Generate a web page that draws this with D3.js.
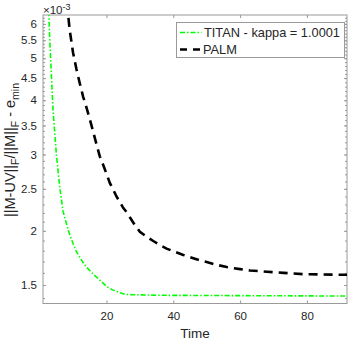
<!DOCTYPE html>
<html><head><meta charset="utf-8">
<script src="https://cdn.jsdelivr.net/npm/d3@7"></script>
<style>body{margin:0;background:#fff}svg{display:block}text{font-family:"Liberation Sans",Arial,sans-serif;fill:#262626}</style>
</head><body><div id="c"></div>
<script>
// data (values in units of 1e-3)
const titanTime = [1,2,3,4,5,6,7,8,9,10,11,12,13,14,15,16,17,18,19,20,21,22,23,24,25,26,28,30,35,40,50,60,70,80,92];
const titanValue = [14,9.5,5.55,3.8,3.0,2.53,2.22,2.08,1.96,1.87,1.79,1.74,1.69,1.65,1.62,1.59,1.565,1.54,1.515,1.49,1.474,1.46,1.45,1.44,1.432,1.427,1.425,1.424,1.421,1.42,1.419,1.418,1.417,1.416,1.415];
const palmTime = [6,7,8,9,10,11,12,13,14,15,16,17,18,19,20,21,22,23,24,25,26,27,28,29,30,32,34,36,38,40,43,46,48,50,53,56,58,60,63,68,73,79,84,89,92];
const palmValue = [9.2,8.0,6.9,5.8,5.15,4.72,4.38,4.08,3.85,3.62,3.39,3.17,2.97,2.84,2.71,2.58,2.49,2.40,2.33,2.26,2.21,2.15,2.09,2.04,1.99,1.94,1.895,1.855,1.82,1.795,1.76,1.73,1.71,1.695,1.67,1.65,1.64,1.632,1.62,1.61,1.60,1.589,1.587,1.585,1.584];
const xTicks = [20,40,60,80];
const yTicks = [1.5,2,2.5,3,3.5,4,4.5,5,5.5,6];
const yMinorTicks = [1.4,1.5,1.6,1.7,1.8,1.9,2.0,2.1,2.2,2.3,2.4,2.5,2.6,2.7,2.8,2.9,3.0,3.1,3.2,3.3,3.4,3.5,3.6,3.7,3.8,3.9,4.0,4.1,4.2,4.3,4.4,4.5,4.6,4.7,4.8,4.9,5.0,5.1,5.2,5.3,5.4,5.5,5.6,5.7,5.8,5.9,6.0,6.1,6.2];
const seriesNames = ["TITAN - kappa = 1.0001","PALM"];

const W=350,H=341, L=43,R=347,T=15,B=303.5;
const svg=d3.select("#c").append("svg").attr("width",W).attr("height",H);
const x=d3.scaleLinear().domain([1,92]).range([L,R]);
const y=d3.scaleLog().domain([1.36,6.29]).range([B,T]);

svg.append("defs").append("clipPath").attr("id","clip").append("rect").attr("x",L).attr("y",T).attr("width",R-L).attr("height",B-T);

const axColor="#9a9a9a";
svg.append("rect").attr("x",L).attr("y",T).attr("width",R-L).attr("height",B-T).attr("fill","none").attr("stroke",axColor).attr("stroke-width",1);

const gx=svg.append("g").attr("transform",`translate(0,${B})`).call(d3.axisBottom(x).tickValues(xTicks).tickSize(-3).tickPadding(8).tickFormat(d3.format("d")));
const gxt=svg.append("g").attr("transform",`translate(0,${T})`).call(d3.axisTop(x).tickValues(xTicks).tickSize(-3).tickFormat(""));
const gy=svg.append("g").attr("transform",`translate(${L},0)`).call(d3.axisLeft(y).tickValues(yTicks).tickSize(-3).tickPadding(6).tickFormat(d=>d3.format("")(d)));
const gyr=svg.append("g").attr("transform",`translate(${R},0)`).call(d3.axisRight(y).tickValues(yTicks).tickSize(-3).tickFormat(""));
const minor=yMinorTicks.filter(v=>v>=1.36&&v<=6.29);
const gym=svg.append("g").attr("transform",`translate(${L},0)`).call(d3.axisLeft(y).tickValues(minor).tickSize(-2).tickFormat(""));
const gymr=svg.append("g").attr("transform",`translate(${R},0)`).call(d3.axisRight(y).tickValues(minor).tickSize(-2).tickFormat(""));
[gx,gxt,gy,gyr,gym,gymr].forEach(g=>{g.select(".domain").remove();g.selectAll("line").attr("stroke",axColor);g.selectAll("text").attr("fill","#262626").style("font-size","11.5px").style("font-family","Liberation Sans, Arial, sans-serif");});

const ex=svg.append("text").attr("x",43).attr("y",13.5).style("font-size","11.5px");
ex.append("tspan").text("×10");
ex.append("tspan").attr("dy",-4).style("font-size","9px").text("-3");

svg.append("text").attr("x",(L+R)/2).attr("y",338).attr("text-anchor","middle").style("font-size","13.5px").text("Time");
const yl=svg.append("text").attr("transform","translate(15,217) rotate(-90)").attr("text-anchor","start").style("font-size","14.5px");
yl.append("tspan").text("||M-UV||");
yl.append("tspan").attr("dy",3.5).style("font-size","10.5px").text("F");
yl.append("tspan").attr("dy",-3.5).text("/||M||");
yl.append("tspan").attr("dy",3.5).style("font-size","10.5px").text("F");
yl.append("tspan").attr("dy",-3.5).text(" - e");
yl.append("tspan").attr("dy",3.5).style("font-size","10.5px").text("min");

const line=d3.line().x(d=>x(d[0])).y(d=>y(d[1]));
const plot=svg.append("g").attr("clip-path","url(#clip)");
plot.append("path").datum(titanTime.map((t,i)=>[t,titanValue[i]])).attr("d",line).attr("fill","none").attr("stroke","#00ff00").attr("stroke-width",1.6).attr("stroke-dasharray","5,2,1.5,2");
plot.append("path").datum(palmTime.map((t,i)=>[t,palmValue[i]])).attr("d",line).attr("fill","none").attr("stroke","#000").attr("stroke-width",2.6).attr("stroke-dasharray","9,6");

const lg=svg.append("g");
lg.append("rect").attr("x",176.5).attr("y",22.5).attr("width",168).attr("height",35).attr("fill","#fff").attr("stroke",axColor);
lg.append("line").attr("x1",180).attr("x2",201.5).attr("y1",32.5).attr("y2",32.5).attr("stroke","#00ff00").attr("stroke-width",1.6).attr("stroke-dasharray","5,2,1.5,2");
lg.append("line").attr("x1",180).attr("x2",201.5).attr("y1",49.5).attr("y2",49.5).attr("stroke","#000").attr("stroke-width",2.6).attr("stroke-dasharray","7,6");
lg.append("text").attr("x",204).attr("y",37).style("font-size","12.8px").text(seriesNames[0]);
lg.append("text").attr("x",203).attr("y",54).style("font-size","12.8px").text(seriesNames[1]);
</script></body></html>
